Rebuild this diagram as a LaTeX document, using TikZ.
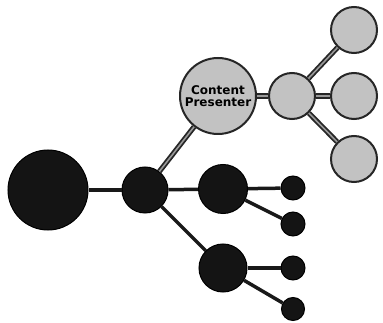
\documentclass[tikz,border=0pt]{standalone}
\usepackage{fontspec}
\newfontfamily\labelfont{DejaVu Sans}
\begin{document}
\begin{tikzpicture}[x=1pt,y=-1pt,
  blacknode/.style={circle,fill=black!92,draw=black,line width=1pt,inner sep=0pt,minimum size=#1},
  greynode/.style={circle,fill=black!24,draw=black!85,line width=2pt,inner sep=0pt,minimum size=#1},
  blackline/.style={draw=black!90,line width=3.5pt},
  greyline/.style={draw=black!85,line width=1.8pt,double=black!40,double distance=1.6pt}]
\useasboundingbox (0,0) rectangle (383,323);
% nodes
\node[blacknode=80pt] (root) at (48,190) {};
\node[blacknode=46pt] (hub) at (145,190) {};
\node[greynode=76pt,font=\labelfont\bfseries\fontsize{12}{13}\selectfont,align=center] (cp) at (218,96) {Content\\[-1pt]Presenter};
\node[greynode=46pt] (g1) at (292,96) {};
\node[greynode=46pt] (g2) at (354,30) {};
\node[greynode=46pt] (g3) at (354,96) {};
\node[greynode=46pt] (g4) at (354,159) {};
\node[blacknode=49pt] (b1) at (223,189) {};
\node[blacknode=48pt] (b2) at (223,268) {};
\node[blacknode=24pt] (d1) at (293,188) {};
\node[blacknode=24pt] (d2) at (293,224) {};
\node[blacknode=24pt] (d3) at (293,268) {};
\node[blacknode=23pt] (d4) at (293,309) {};
% connectors
\path[blackline] (root) -- (hub);
\path[greyline] (hub) -- (cp);
\path[blackline] (hub) -- (b1);
\path[blackline] (hub) -- (b2);
\path[greyline] (cp) -- (g1);
\path[greyline] (g1) -- (g2);
\path[greyline] (g1) -- (g3);
\path[greyline] (g1) -- (g4);
\path[blackline] (b1) -- (d1);
\path[blackline] (b1) -- (d2);
\path[blackline] (b2) -- (d3);
\path[blackline] (b2) -- (d4);
\end{tikzpicture}
\end{document}
